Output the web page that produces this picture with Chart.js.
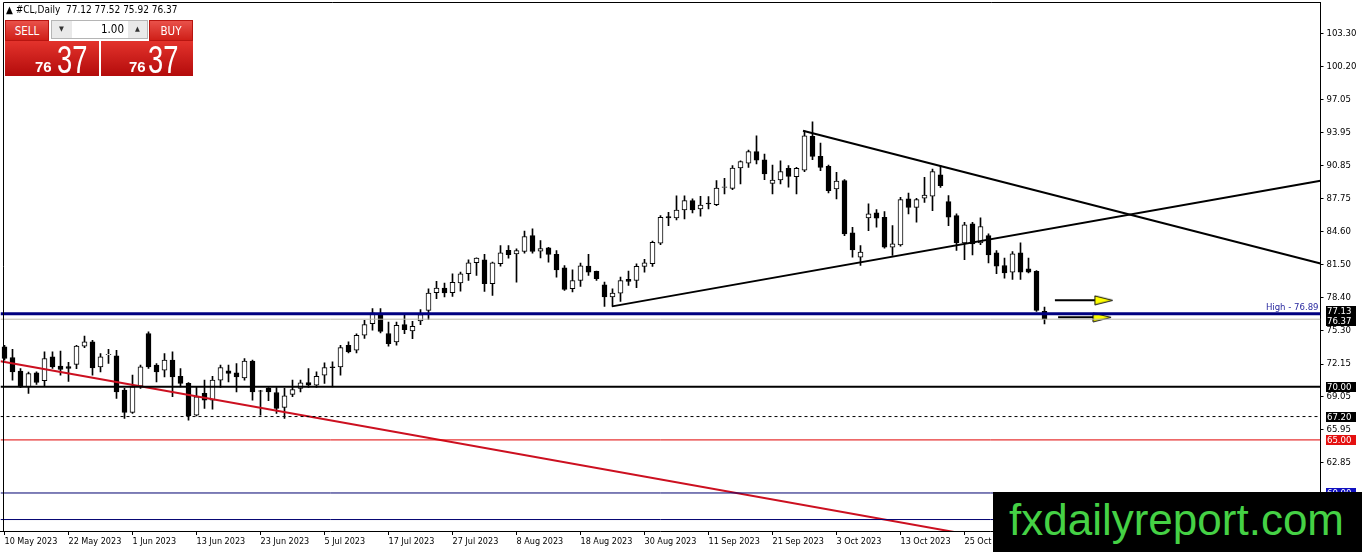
<!DOCTYPE html>
<html lang="en">
<head>
  <meta charset="UTF-8" />
  <title>#CL,Daily</title>
  <script src="https://cdn.jsdelivr.net/npm/chart.js"></script>
  <style>
    html, body { margin: 0; padding: 0; background: #fff; overflow: hidden; }
    #wrap { position: relative; width: 1362px; height: 552px; }
    #wrap canvas { position: absolute; left: 0; top: 0; }
    .ui { position: absolute; font-family: 'DejaVu Sans Condensed', 'DejaVu Sans', sans-serif; }
    #hdr { left: 6px; top: 4px; font-size: 10px; color: #000; white-space: pre; }
    .tab { top: 20px; height: 21px; width: 44px; color: #fff; font-size: 11.5px; line-height: 21px; text-align: center;
           background: linear-gradient(#e9514a, #cf1f18); box-sizing: border-box; border: 1px solid #b81510; }
    #sellTab { left: 5px; }
    #buyTab { left: 149px; }
    #spin { left: 51px; top: 20px; width: 97px; height: 19px; background: #e9e9e9; border: 1px solid #b5b5b5; box-sizing: border-box; }
    #spin .dn, #spin .up { position: absolute; top: 2px; width: 15px; height: 13px; font-size: 7px; line-height: 13px; text-align: center; color: #333; }
    #spin .dn { left: 2px; }
    #spin .up { right: 2px; }
    #spin .val { position: absolute; left: 20px; top: 0; width: 56px; height: 17px; background: #fff; font-size: 11.5px; line-height: 17px; text-align: right; padding-right: 4px; box-sizing: border-box; color: #000; }
    .big { top: 41px; height: 35px; background: linear-gradient(#e3332c, #b30b0b); color: #fff; overflow: hidden; }
    #sellBig { left: 5px; width: 94px; }
    #buyBig { left: 101px; width: 92px; }
    .big .lo { position: absolute; top: 18px; font: bold 15px 'Liberation Sans Narrow', 'Liberation Sans', sans-serif; line-height: 15px; }
    .big .hi { position: absolute; top: -1px; font: 39px 'Liberation Sans Narrow', 'Liberation Sans', sans-serif; line-height: 39px;
               transform: scaleX(0.7); transform-origin: left top; }
    #sellBig .lo { left: 30px; } #sellBig .hi { left: 52px; }
    #buyBig .lo { left: 28px; } #buyBig .hi { left: 47px; }
    #mark { left: 993px; top: 492px; width: 369px; height: 60px; background: #000; }
    #mark span { position: absolute; left: 16px; top: 6px; font: 44px 'Liberation Sans', Arial, sans-serif; line-height: 44px; color: #45d145; }
  </style>
</head>
<body>
  <div id="wrap">
    <canvas id="cl"></canvas>
    <div class="ui" id="hdr"></div>
    <div class="ui tab" id="sellTab">SELL</div>
    <div class="ui" id="spin"><div class="dn">▼</div><div class="val">1.00</div><div class="up">▲</div></div>
    <div class="ui tab" id="buyTab">BUY</div>
    <div class="ui big" id="sellBig"><span class="lo">76</span><span class="hi">37</span></div>
    <div class="ui big" id="buyBig"><span class="lo">76</span><span class="hi">37</span></div>
    <div class="ui" id="mark"><span>fxdailyreport.com</span></div>
  </div>

  <script>
    // daily bars, 10 May 2023 onwards
    const openP = [
      73.77, 72.76, 71.48, 70.00, 71.32, 70.57, 72.82, 71.95, 71.90, 72.10,
      73.83, 74.23, 71.88, 73.02, 72.92, 69.69, 67.59, 70.07, 75.02, 72.04,
      71.57, 72.51, 71.00, 70.32, 67.34, 69.38, 68.75, 70.63, 71.50, 71.32,
      70.85, 72.42, 69.62, 69.85, 69.47, 68.06, 69.29, 69.85, 70.41, 70.16,
      71.10, 71.88, 71.88, 73.90, 73.45, 74.86, 75.95, 76.80, 75.02, 74.23,
      75.86, 75.26, 76.21, 77.20, 78.87, 79.30, 78.87, 79.80, 80.65, 81.69,
      81.97, 79.71, 81.59, 82.85, 82.53, 82.75, 84.25, 82.78, 83.09, 82.47,
      81.21, 79.24, 80.02, 81.37, 80.87, 79.62, 78.46, 78.83, 80.12, 80.02,
      81.34, 81.59, 83.53, 86.03, 85.91, 86.66, 87.54, 86.76, 87.32, 87.17,
      88.79, 88.70, 90.61, 91.08, 92.15, 91.39, 89.17, 89.48, 90.58, 89.80,
      90.42, 93.59, 91.71, 90.77, 88.64, 89.42, 84.50, 82.22, 85.91, 86.38,
      85.97, 83.15, 83.37, 87.70, 86.91, 87.76, 87.95, 89.98, 87.45, 86.13,
      83.56, 85.35, 83.56, 84.25, 82.62, 81.43, 80.80, 82.62, 81.12, 80.87,
      77.12
    ];
    const highP = [
      73.92, 73.54, 71.73, 71.40, 71.41, 73.29, 73.29, 73.36, 72.30, 73.92,
      74.77, 74.39, 73.14, 73.54, 73.45, 69.85, 71.10, 72.04, 75.17, 72.20,
      73.14, 73.29, 71.73, 70.40, 70.00, 70.63, 71.00, 72.04, 72.04, 72.20,
      72.67, 72.51, 69.66, 69.94, 69.94, 69.85, 70.63, 70.63, 71.73, 71.41,
      72.26, 72.35, 73.92, 74.23, 75.00, 76.26, 77.36, 77.36, 76.11, 76.11,
      76.83, 76.17, 77.27, 79.24, 79.93, 79.77, 80.65, 80.81, 81.97, 82.16,
      82.47, 81.75, 83.30, 83.30, 83.00, 84.66, 84.88, 83.78, 83.15, 82.84,
      81.43, 81.02, 81.65, 82.47, 80.90, 79.87, 79.24, 80.34, 80.90, 81.59,
      82.00, 83.72, 86.13, 86.44, 88.00, 88.00, 87.70, 87.95, 87.92, 89.42,
      89.64, 90.83, 91.30, 92.30, 93.65, 91.93, 90.89, 91.30, 90.83, 90.67,
      94.12, 94.97, 92.96, 90.89, 90.20, 89.52, 85.03, 83.31, 87.23, 86.69,
      86.50, 85.19, 87.85, 88.26, 87.76, 89.73, 90.52, 90.83, 88.01, 86.29,
      85.50, 85.50, 85.91, 84.41, 82.84, 82.12, 82.75, 83.56, 82.12, 80.96,
      77.52
    ];
    const lowP = [
      72.50, 70.63, 69.91, 69.38, 70.22, 70.10, 71.73, 71.10, 70.50, 71.70,
      73.70, 71.10, 71.41, 72.20, 68.90, 67.03, 67.50, 69.85, 71.73, 70.47,
      70.94, 69.07, 70.00, 66.87, 67.25, 67.97, 67.90, 69.94, 70.47, 69.53,
      70.63, 68.75, 67.34, 68.69, 67.50, 67.03, 69.07, 69.53, 69.94, 69.94,
      70.32, 70.00, 71.10, 73.20, 73.20, 74.55, 75.33, 75.08, 73.82, 73.92,
      75.00, 74.54, 75.86, 76.33, 78.30, 78.46, 78.52, 79.02, 80.03, 80.50,
      78.99, 78.62, 81.37, 82.13, 79.87, 82.59, 82.59, 82.15, 81.74, 80.34,
      79.08, 78.93, 79.46, 80.49, 80.02, 77.58, 77.58, 78.05, 79.55, 79.33,
      80.80, 81.34, 83.40, 85.19, 85.72, 85.82, 86.38, 86.07, 86.76, 87.07,
      88.17, 88.57, 89.11, 90.67, 90.99, 89.52, 88.17, 89.11, 88.80, 88.17,
      90.27, 91.39, 90.36, 88.26, 87.70, 84.25, 82.22, 81.43, 84.72, 85.04,
      83.06, 82.37, 83.25, 86.29, 85.50, 87.38, 86.60, 88.79, 85.19, 82.84,
      81.99, 82.43, 83.40, 81.68, 80.65, 80.24, 80.11, 80.11, 80.74, 77.10,
      75.92
    ];
    const closeP = [
      72.67, 71.41, 70.00, 71.26, 70.41, 72.67, 71.88, 71.63, 71.73, 73.83,
      74.23, 71.79, 72.82, 73.06, 69.53, 67.59, 70.00, 71.88, 71.88, 71.41,
      72.51, 70.94, 70.32, 67.25, 69.07, 68.75, 70.63, 71.82, 71.26, 70.94,
      72.42, 69.53, 69.58, 69.53, 67.97, 69.16, 69.75, 70.38, 70.16, 71.00,
      71.82, 71.80, 73.70, 73.30, 74.86, 75.86, 76.96, 75.23, 74.07, 75.80,
      75.39, 75.70, 76.80, 78.84, 79.30, 78.84, 79.84, 80.65, 81.69, 82.13,
      79.71, 81.69, 82.63, 82.44, 82.84, 84.16, 82.75, 83.03, 82.47, 81.02,
      79.18, 80.02, 81.40, 80.80, 80.18, 78.46, 78.83, 80.02, 79.93, 81.34,
      81.68, 83.62, 85.97, 85.91, 86.66, 87.54, 86.66, 87.13, 87.23, 88.73,
      88.85, 90.61, 91.21, 92.15, 91.36, 90.05, 89.48, 90.27, 89.83, 90.58,
      93.65, 91.71, 90.67, 88.48, 89.39, 84.41, 82.90, 82.69, 86.29, 85.88,
      83.15, 83.47, 87.64, 86.91, 87.64, 88.07, 90.27, 88.95, 85.97, 83.56,
      85.25, 83.47, 85.10, 82.43, 81.37, 80.74, 82.53, 80.80, 80.80, 77.20,
      76.37
    ];

    const dateTicks = [
      '10 May 2023', '22 May 2023', '1 Jun 2023', '13 Jun 2023', '23 Jun 2023', '5 Jul 2023',
      '17 Jul 2023', '27 Jul 2023', '8 Aug 2023', '18 Aug 2023', '30 Aug 2023', '11 Sep 2023',
      '21 Sep 2023', '3 Oct 2023', '13 Oct 2023', '25 Oct 2023'
    ];
    const tickStep = 8;      // bars between date labels
    const slotCount = 165;   // bar slots across the window, incl. empty right margin

    const yTicks = [103.30, 100.20, 97.05, 93.95, 90.85, 87.75, 84.60, 81.50, 78.40, 75.30, 72.15, 69.05, 65.95, 62.85];
    const yMin = 56.42, yMax = 106.25;

    // horizontal levels: high line, bid line, 70, 67.20, 65, 60, 57.50
    const levelValues = [76.89, 76.37, 70.00, 67.20, 65.00, 60.00, 57.50];
    // price tags on the right axis
    const tagValues = [77.13, 76.37, 70.00, 67.20, 65.00, 60.00];

    // trend lines: red support, rising black, falling black (bar index, price)
    const trendFromX = [-0.5, 75.94, 99.81];
    const trendFromY = [72.40, 77.58, 94.12];
    const trendToX = [119.5, 164.5, 164.5];
    const trendToY = [56.22, 89.42, 81.62];

    // two yellow arrows
    const arrowFromX = [131.3, 131.7];
    const arrowToX = [137.4, 137.2];
    const arrowY = [78.15, 76.55];

    const last = closeP.length - 1;
    document.getElementById('hdr').textContent =
      '▲ #CL,Daily  ' + [openP[last], highP[last], lowP[last], closeP[last]].map(v => v.toFixed(2)).join(' ');

    const axisFont = "'DejaVu Sans Condensed', 'DejaVu Sans', sans-serif";
    const slots = Array.from({ length: slotCount }, (_, i) => i);

    function arrowHead() {
      const c = document.createElement('canvas');
      c.width = 20; c.height = 11;
      const g = c.getContext('2d');
      g.beginPath();
      g.moveTo(1, 1); g.lineTo(19, 5.5); g.lineTo(1, 10); g.closePath();
      g.fillStyle = '#ffff00'; g.fill();
      g.strokeStyle = '#000'; g.lineWidth = 1; g.stroke();
      return c;
    }
    const head = arrowHead();

    function hline(v, color, width, dash) {
      return {
        type: 'line', xAxisID: 'xl', order: 0,
        data: [{ x: -0.5, y: v }, { x: slotCount - 0.5, y: v }],
        borderColor: color, borderWidth: width, borderDash: dash || [],
        pointRadius: 0
      };
    }
    const levelStyle = [
      ['#000080', 3], ['#bcb8ac', 1], ['#000000', 2], ['#000000', 1, [3, 3]],
      ['#e00000', 1], ['#000070', 1], ['#000070', 1]
    ];

    const datasets = [];
    levelValues.forEach((v, i) => datasets.push(hline(v, ...levelStyle[i])));

    const trendColors = ['#cc1020', '#000000', '#000000'];
    trendFromX.forEach((x, i) => datasets.push({
      type: 'line', xAxisID: 'xl', order: 0,
      data: [{ x: x, y: trendFromY[i] }, { x: trendToX[i], y: trendToY[i] }],
      borderColor: trendColors[i], borderWidth: 2, pointRadius: 0
    }));

    arrowFromX.forEach((x, i) => datasets.push({
      type: 'line', xAxisID: 'xl', order: 0,
      data: [{ x: x, y: arrowY[i] }, { x: arrowToX[i], y: arrowY[i] }],
      borderColor: '#000', borderWidth: 2,
      pointRadius: [0, 6], pointStyle: ['circle', head]
    }));

    // wicks
    datasets.push({
      type: 'bar', order: 2, grouped: false,
      data: lowP.map((l, i) => [l, highP[i]]),
      backgroundColor: '#000', borderWidth: 0, barThickness: 1
    });
    // bodies
    datasets.push({
      type: 'bar', order: 1, grouped: false,
      data: openP.map((o, i) => [o, closeP[i]]),
      backgroundColor: openP.map((o, i) => closeP[i] >= o ? '#ffffff' : '#000000'),
      borderColor: '#000', borderWidth: 1, borderSkipped: false, barThickness: 5
    });

    const decor = {
      id: 'decor',
      afterDraw(chart) {
        const { ctx, chartArea: a, scales: { y } } = chart;
        ctx.save();
        ctx.strokeStyle = '#000';
        ctx.lineWidth = 1;
        ctx.beginPath();
        ctx.moveTo(3.5, a.bottom);
        ctx.lineTo(3.5, a.top + 0.5);
        ctx.lineTo(a.right, a.top + 0.5);
        ctx.stroke();

        ctx.font = '9.5px ' + axisFont;
        ctx.fillStyle = '#2a2aa0';
        ctx.textAlign = 'right';
        ctx.textBaseline = 'bottom';
        ctx.fillText('High - ' + levelValues[0].toFixed(2), a.right - 2, y.getPixelForValue(levelValues[0]) - 1);

        const tagColors = ['#000', '#000', '#000', '#000', '#e41010', '#1010c0'];
        let prev = -100;
        ctx.textAlign = 'left';
        ctx.textBaseline = 'middle';
        tagValues.forEach((v, i) => {
          const cy = Math.max(Math.round(y.getPixelForValue(v)), prev + 10);
          prev = cy;
          ctx.fillStyle = tagColors[i];
          ctx.fillRect(a.right + 5.5, cy - 5, 30, 10);
          ctx.fillStyle = '#fff';
          ctx.fillText(v.toFixed(2), a.right + 6.5, cy + 0.5);
        });
        ctx.restore();
      }
    };

    new Chart(document.getElementById('cl'), {
      data: { labels: slots, datasets: datasets },
      plugins: [decor],
      options: {
        responsive: true,
        maintainAspectRatio: false,
        animation: false,
        layout: { autoPadding: false, padding: { left: 0.5, top: 2, right: 0, bottom: 0 } },
        plugins: { legend: { display: false }, tooltip: { enabled: false } },
        scales: {
          x: {
            type: 'category',
            offset: true,
            afterFit: s => { s.height = 21; s.paddingLeft = 0; s.paddingRight = 0; },
            grid: { display: true, drawOnChartArea: false, offset: false, tickLength: 4, color: '#000' },
            border: { display: true, color: '#000' },
            ticks: {
              autoSkip: false, maxRotation: 0, minRotation: 0, align: 'start', padding: 1,
              color: '#000', font: { family: axisFont, size: 9 },
              callback: (v, i) => (i % tickStep === 0 && dateTicks[i / tickStep]) ? dateTicks[i / tickStep] : null
            }
          },
          xl: { type: 'linear', display: false, min: -0.5, max: slotCount - 0.5 },
          y: {
            type: 'linear', position: 'right', min: yMin, max: yMax,
            afterFit: s => { s.width = 41.5; s.paddingTop = 0; s.paddingBottom = 0; },
            afterBuildTicks: s => { s.ticks = yTicks.map(v => ({ value: v })); },
            grid: { drawOnChartArea: false, tickLength: 3, color: '#000' },
            border: { display: true, color: '#000' },
            ticks: { color: '#000', padding: 3, font: { family: axisFont, size: 9.5 }, callback: v => v.toFixed(2) }
          }
        }
      }
    });
  </script>
</body>
</html>
